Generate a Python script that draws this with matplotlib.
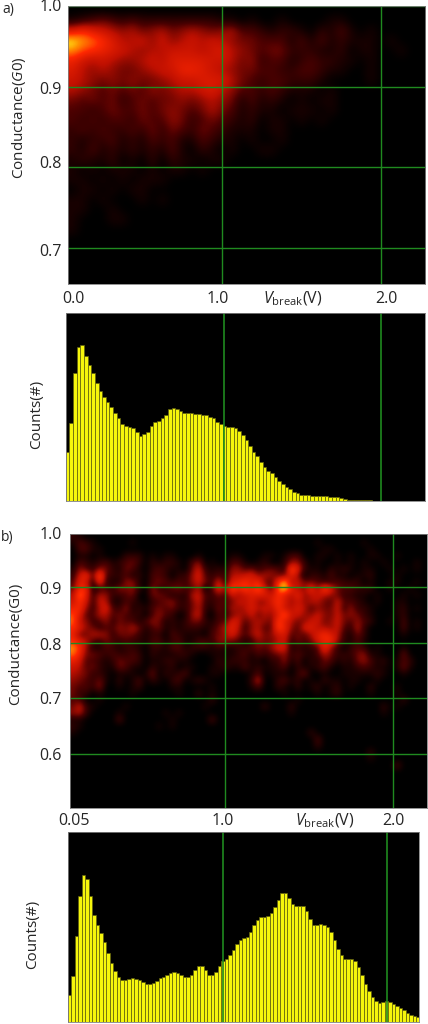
import numpy as np
import matplotlib
matplotlib.use('Agg')
import matplotlib.pyplot as plt
from matplotlib.colors import LinearSegmentedColormap

plt.rcParams['font.family'] = ['Open Sans', 'DejaVu Sans']
plt.rcParams['mathtext.fontset'] = 'custom'
plt.rcParams['mathtext.rm'] = 'Open Sans'
plt.rcParams['mathtext.it'] = 'Open Sans:italic'

W, H = 428, 1024

# Heatmap intensities (hex digit per cell, top row first)
heat_a_rows = [
    "000000 000000 000000 000000 000000 000000",
    "123432 322222 222110 100100 001100 000000",
    "8a8765 645645 654563 321221 021310 100000",
    "fdca86 675756 767654 433313 131211 101000",
    "dba987 656677 767865 434422 211201 100100",
    "976765 567688 887764 523312 322110 100000",
    "865654 456779 987654 433223 321100 100000",
    "765454 544567 788864 323322 210000 100000",
    "654343 435456 678653 323211 101000 000000",
    "434342 343445 456541 312101 011000 000000",
    "332343 343454 346431 211011 101000 000000",
    "323233 243354 234321 201101 010000 000000",
    "232322 324243 243211 101100 000000 000000",
    "212231 213231 132110 100100 000000 000000",
    "213121 212131 021010 011000 000000 000000",
    "121120 102021 101100 000000 000000 000000",
    "101011 101011 010000 000000 000000 000000",
    "110101 011100 000000 000000 000000 000000",
    "011010 110000 000000 000000 000000 000000",
    "110100 010100 000000 000000 000000 000000",
    "110010 000000 000000 000000 000000 000000",
    "100011 000000 000000 000000 000000 000000",
    "100000 000000 000000 000000 000000 000000",
    "000000 000000 000000 000000 000000 000000",
    "000000 000000 000000 000000 000000 000000",
    "000000 000000 000000 000000 000000 000000",
    "000000 000000 000000 000000 000000 000000",
    "000000 000000 000000 000000 000000 000000",
]
heat_b_rows = [
    "210000 000000 000000 000000 000000 000000 000000 000000 000000",
    "132100 000100 000000 000000 000000 000000 010000 001000 000000",
    "033110 000000 000000 000000 000000 000000 001100 000100 000000",
    "011010 002220 101100 010000 110001 101330 011010 100110 010000",
    "032123 123420 212210 350100 331012 002552 010010 101001 000010",
    "153254 214310 232110 472121 553423 432c82 110212 101100 101010",
    "27a3d3 223120 332022 583232 667856 544950 221311 011200 010000",
    "3971a2 115510 343232 574281 89a8a4 3af574 432232 220100 110010",
    "4a9123 254520 522443 360395 c9b9c8 3cf965 a5c843 322200 100100",
    "6d8265 223400 443121 673242 757888 7a8695 676542 211010 001010",
    "7a7276 113210 234522 472233 476855 8a8575 664373 321010 011000",
    "9a5268 325121 343422 462142 656867 6a7686 354472 522100 012010",
    "b83366 343220 353201 571032 465746 58c775 575474 542100 012000",
    "c65235 243313 541212 442133 873565 4b8645 774574 353200 103010",
    "a85423 354641 341212 221246 962563 4b9538 866573 262000 003010",
    "944665 244421 220321 110345 853574 578343 68a862 142000 001000",
    "a86324 323221 331231 133255 431254 467243 489a52 131000 000000",
    "da5113 212210 221331 222121 122343 588121 23a520 232010 001000",
    "c94432 322320 211122 100111 123132 345232 136422 245110 004000",
    "973321 243320 112211 000021 222110 225130 214312 145312 013200",
    "763421 143110 211201 100112 113121 123021 123101 123211 014100",
    "654221 011101 402123 000110 000130 111024 001001 111121 001000",
    "543241 020130 210230 121000 000270 023120 102110 110010 000000",
    "433250 010120 000110 000100 000130 021020 120120 100200 010000",
    "422010 000100 000010 020100 000000 001000 010120 000100 010000",
    "330010 000000 000000 000200 000000 000010 000000 000000 002000",
    "472100 001000 000000 001000 000002 000200 000000 000002 010000",
    "562000 010000 001010 000000 000000 000100 000000 000001 000000",
    "110000 030000 000100 000300 000000 000000 000000 000000 000000",
    "210000 000000 010100 000000 000000 000000 000000 000000 000000",
    "100000 000000 000000 000000 000000 000000 200000 000000 000000",
    "000000 000000 000000 000000 000000 000000 030000 000000 000000",
    "000000 000000 000000 000000 000000 000000 020000 000000 000000",
    "000000 000000 000000 000000 000000 000000 000000 000200 000000",
    "000000 000000 000000 000000 000000 000000 000000 000100 000000",
    "000000 000000 000000 000000 000000 000000 000000 000000 030000",
    "000000 000000 000000 000000 000000 000000 000000 000000 000000",
    "000000 000000 000000 000000 000000 000000 000000 000000 000000",
    "000000 000000 000000 000000 000000 000000 000000 000000 000000",
    "000000 000000 000000 000000 000000 000000 000000 000000 000000",
    "000000 000000 000000 000000 000000 000000 000000 000000 000000",
    "000000 000000 000000 000000 000000 000000 000000 000000 000000",
]

# Histogram bar heights (counts, arbitrary units as there is no scale)
counts_a = [148, 235, 383, 461, 468, 435, 408, 383, 353, 330, 311, 295, 281, 265,
            248, 231, 225, 221, 220, 208, 195, 201, 208, 225, 238, 241, 248, 258,
            275, 280, 276, 271, 265, 263, 264, 261, 260, 258, 257, 253, 248, 238,
            231, 225, 223, 223, 220, 211, 197, 183, 165, 148, 136, 118, 101, 90,
            83, 71, 60, 51, 43, 35, 28, 23, 19, 17, 17, 16, 16, 15, 15, 14, 13, 12,
            11, 8, 5, 4, 3, 3, 3, 2, 2, 2, 1, 1, 1, 1, 1, 0]
counts_b = [78, 137, 255, 375, 438, 428, 375, 320, 288, 265, 238, 205, 175, 150,
            132, 123, 123, 128, 131, 127, 123, 117, 111, 111, 115, 122, 129, 134,
            140, 145, 147, 145, 138, 132, 134, 140, 155, 165, 167, 153, 140, 138,
            147, 167, 180, 188, 198, 213, 232, 245, 250, 252, 267, 288, 305, 312,
            314, 315, 325, 342, 365, 385, 385, 370, 352, 345, 347, 347, 330, 307,
            290, 288, 292, 290, 284, 267, 245, 217, 198, 187, 187, 187, 180, 163,
            140, 112, 90, 72, 60, 56, 58, 60, 58, 53, 45, 40, 33, 26, 20, 15, 14]

panels = [
    dict(heat=heat_a_rows, counts=counts_a, label='a)', label_xy=(2, 9),
         heat_box=(67.5, 6, 425, 284), heat_xlim=(0.028, 2.277), heat_ylim=(0.655, 1.0),
         hist_box=(65.7, 313, 425, 501), hist_xlim=(-0.004, 2.28), bin_w=0.0232,
         ymax=563, grid_y=[1.0, 0.9, 0.8, 0.7],
         ytext=[('1.0', 7), ('0.9', 90), ('0.8', 164), ('0.7', 252)], ytext_x=62,
         xtext=[('0.0', 73), ('1.0', 218), ('2.0', 386)], xtext_y=299,
         vbreak_x=293, cond=('Conductance($\\mathit{G}$0)', 19, 118),
         cnt=(37, 414), hist_grid=[1.0, 2.0]),
    dict(heat=heat_b_rows, counts=counts_b, label='b)', label_xy=(1, 537),
         heat_box=(70, 533.5, 427, 808), heat_xlim=(0.077, 2.2), heat_ylim=(0.503, 0.996),
         hist_box=(68, 832, 418.7, 1021.5), hist_xlim=(0.05, 2.196), bin_w=0.0213,
         ymax=568, grid_y=[0.9, 0.8, 0.7, 0.6],
         ytext=[('1.0', 535), ('0.9', 590), ('0.8', 646), ('0.7', 700), ('0.6', 756)], ytext_x=62,
         xtext=[('0.05', 74), ('1.0', 223), ('2.0', 393)], xtext_y=821,
         vbreak_x=325, cond=('Conductance(G0)', 16, 644),
         cnt=(33, 934), hist_grid=[1.0, 2.0]),
]

cmap = LinearSegmentedColormap.from_list(
    'heat', [(0, '#000000'), (0.2, '#4a0000'), (0.42, '#c01000'), (0.68, '#ff2800'),
             (0.86, '#ff9000'), (1, '#ffff20')])
GREEN = '#1f8a1f'


def px_axes(fig, box):
    x0, y0, x1, y1 = box
    ax = fig.add_axes([x0 / W, 1 - y1 / H, (x1 - x0) / W, (y1 - y0) / H])
    ax.set_xticks([])
    ax.set_yticks([])
    ax.set_facecolor('black')
    for spine in ax.spines.values():
        spine.set_edgecolor('#808080')
        spine.set_linewidth(0.6)
    return ax


def px_text(fig, x, y, s, **kw):
    fig.text(x / W, 1 - y / H, s, color='#262626', **kw)


fig = plt.figure(figsize=(W / 100, H / 100), dpi=100)

for p in panels:
    # Heatmap
    ax = px_axes(fig, p['heat_box'])
    grid = np.array([[int(c, 16) for c in r.replace(' ', '')] for r in p['heat']], dtype=float)
    ax.imshow(grid, cmap=cmap, vmin=0, vmax=15, aspect='auto', interpolation='bicubic',
              extent=[*p['heat_xlim'], *p['heat_ylim']], origin='upper')
    for v in p['grid_y']:
        ax.axhline(v, color=GREEN, lw=1)
    for v in p['hist_grid']:
        ax.axvline(v, color=GREEN, lw=1)
    ax.set_xlim(p['heat_xlim'])
    ax.set_ylim(p['heat_ylim'])

    # Histogram
    ax2 = px_axes(fig, p['hist_box'])
    n = len(p['counts'])
    lefts = p['hist_xlim'][0] + np.arange(n) * p['bin_w']
    ax2.bar(lefts, p['counts'], width=p['bin_w'], align='edge', color='#f6f60c',
            edgecolor='#5f5f10', linewidth=0.5)
    for v in p['hist_grid']:
        ax2.axvline(v, color=GREEN, lw=1.2)
    ax2.set_xlim(p['hist_xlim'])
    ax2.set_ylim(0, p['ymax'])

    # Text
    px_text(fig, *p['label_xy'], p['label'], fontsize=10, ha='left', va='center')
    for s, y in p['ytext']:
        px_text(fig, p['ytext_x'], y, s, fontsize=11.5, ha='right', va='center')
    for s, x in p['xtext']:
        px_text(fig, x, p['xtext_y'], s, fontsize=11.5, ha='center', va='center')
    px_text(fig, p['vbreak_x'], p['xtext_y'], r'$\mathit{V}_{\mathrm{break}}$(V)',
            fontsize=11.5, ha='center', va='center')
    px_text(fig, p['cond'][1], p['cond'][2], p['cond'][0], fontsize=11,
            rotation=90, ha='center', va='center')
    px_text(fig, p['cnt'][0], p['cnt'][1], 'Counts(#)', fontsize=11,
            rotation=90, ha='center', va='center')

fig.savefig('out.png', dpi=100)
